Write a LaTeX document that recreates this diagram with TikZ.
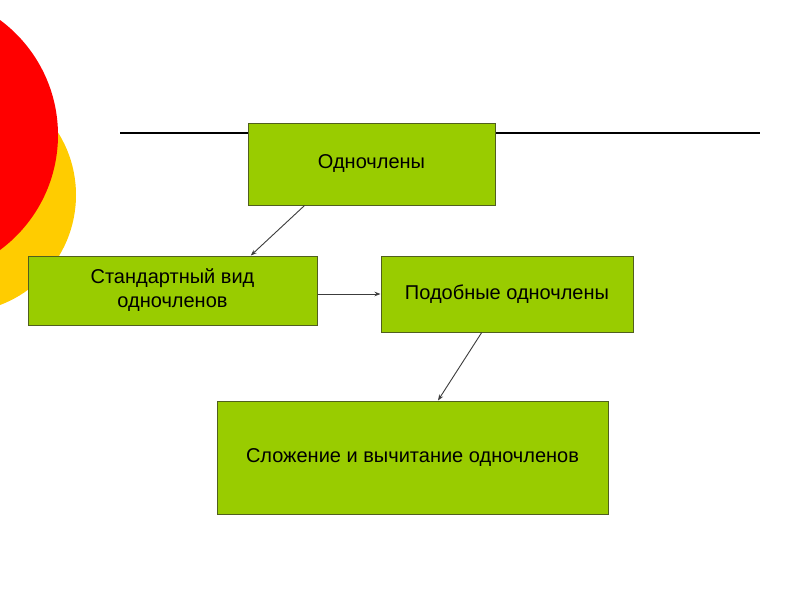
\documentclass[tikz,border=0pt]{standalone}
\usepackage{fontspec}
\setmainfont{Liberation Sans}
\usetikzlibrary{arrows.meta,calc}
\definecolor{boxgreen}{RGB}{153,204,0}
\definecolor{boxborder}{RGB}{80,95,30}
\definecolor{circred}{RGB}{255,0,0}
\definecolor{circyellow}{RGB}{255,204,0}
\definecolor{arrowgray}{RGB}{60,60,60}
\tikzset{
  gbox/.style={draw=boxborder, line width=1pt, fill=boxgreen, rectangle, inner sep=0pt,
    align=center, font=\fontsize{20}{24}\selectfont},
  conn/.style={draw=arrowgray, line width=0.9pt, -{Stealth[length=6pt,width=4.5pt]}}
}
\begin{document}
\begin{tikzpicture}[x=1pt,y=-1pt]
\useasboundingbox (0,0) rectangle (800,600);
\fill[white] (0,0) rectangle (800,600);
\begin{scope}
\clip (0,0) rectangle (800,600);
\fill[circyellow] (-41.6,195) circle[radius=117.6];
\fill[circred] (-85,135) circle[radius=143];
\end{scope}
\coordinate (lineL) at (120,133);
\coordinate (lineR) at (760,133);
\draw[black, line width=1.4pt] (lineL) -- (lineR);
\node[gbox, minimum width=247, minimum height=82] (one) at (371.5,164) {Одночлены};
\node[gbox, minimum width=289, minimum height=69] (std) at (172.5,290.5) {Стандартный вид\\одночленов};
\node[gbox, minimum width=252, minimum height=76] (sim) at (507,294) {Подобные одночлены};
\node[gbox, minimum width=391, minimum height=113] (sum) at (412.5,457.5) {Сложение и вычитание одночленов};
\draw[conn] ($(one.south west)!0.23!(one.south east)$) -- ($(std.north west)!0.77!(std.north east)$);
\draw[conn] (std.east |- sim.west) -- (sim.west);
\draw[conn] ($(sim.south west)!0.40!(sim.south east)$) -- ($(sum.north west)!0.565!(sum.north east)$);
\end{tikzpicture}
\end{document}
